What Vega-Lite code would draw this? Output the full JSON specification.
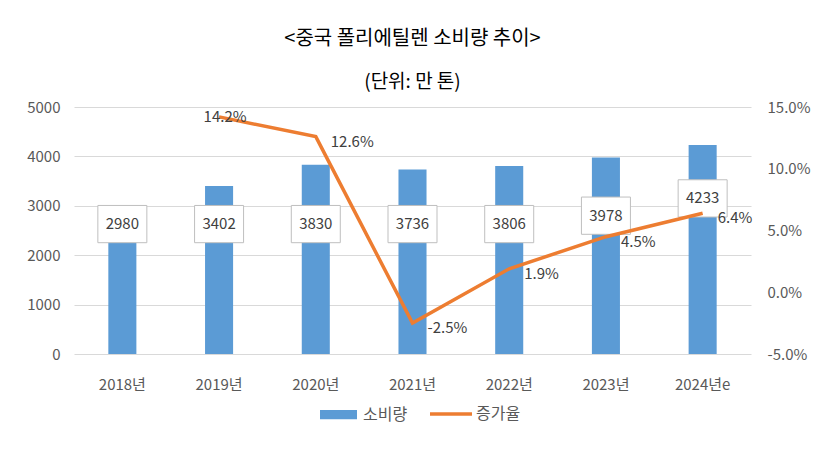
{
  "$schema": "https://vega.github.io/schema/vega-lite/v6.json",
  "width": 677,
  "height": 247,
  "autosize": {"type": "none"},
  "padding": {"left": 74, "top": 107, "right": 78, "bottom": 103},
  "background": "white",
  "config": {
    "font": "Noto Sans CJK KR",
    "view": {"stroke": null},
    "axis": {"labelFont": "Noto Sans CJK KR", "labelFontSize": 15, "labelColor": "#595959", "domain": false, "ticks": false, "title": null}
  },
  "title": {
    "text": "<중국 폴리에틸렌 소비량 추이>",
    "subtitle": "(단위: 만 톤)",
    "font": "Noto Sans CJK KR",
    "subtitleFont": "Noto Sans CJK KR",
    "fontSize": 20,
    "subtitleFontSize": 19,
    "fontWeight": "normal",
    "color": "#000000",
    "subtitleColor": "#000000",
    "anchor": "middle",
    "offset": 8,
    "subtitlePadding": 24
  },
  "data": {
    "values": [
      {"year": "2018년", "value": 2980, "rate": null},
      {"year": "2019년", "value": 3402, "rate": 0.142},
      {"year": "2020년", "value": 3830, "rate": 0.126},
      {"year": "2021년", "value": 3736, "rate": -0.025},
      {"year": "2022년", "value": 3806, "rate": 0.019},
      {"year": "2023년", "value": 3978, "rate": 0.045},
      {"year": "2024년e", "value": 4233, "rate": 0.064}
    ]
  },
  "encoding": {
    "x": {
      "field": "year",
      "type": "nominal",
      "sort": null,
      "scale": {"paddingInner": 0.71, "paddingOuter": 0.355},
      "axis": {"labelAngle": 0, "labelPadding": 23, "grid": false}
    }
  },
  "layer": [
    {
      "transform": [{"calculate": "datum.value < 3900 ? 2630 : (datum.value < 4000 ? 2800 : 3150)", "as": "labelY"}],
      "layer": [
        {
          "mark": {"type": "bar", "color": "#5b9bd5"},
          "encoding": {
            "y": {
              "field": "value",
              "type": "quantitative",
              "scale": {"domain": [0, 5000], "nice": false},
              "axis": {"values": [0, 1000, 2000, 3000, 4000, 5000], "format": "d", "grid": true, "gridColor": "#d9d9d9", "labelPadding": 14}
            },
            "fill": {
              "datum": "소비량",
              "type": "nominal",
              "scale": {"range": ["#5b9bd5"]},
              "legend": {"orient": "none", "legendX": 246, "legendY": 289, "title": null, "symbolType": "M-1,-0.25H1V0.25H-1Z", "symbolSize": 1369, "symbolStrokeWidth": 0, "labelFontSize": 16, "labelColor": "#595959", "labelFont": "Noto Sans CJK KR", "labelOffset": 6}
            }
          }
        },
        {
          "mark": {"type": "point", "shape": "M-1,-0.76H1V0.76H-1Z", "size": 2401, "filled": true, "fill": "white", "stroke": "#bfbfbf", "strokeWidth": 1, "opacity": 1},
          "encoding": {"y": {"field": "labelY", "type": "quantitative"}}
        },
        {
          "mark": {"type": "text", "fontSize": 15, "color": "#404040"},
          "encoding": {
            "y": {"field": "labelY", "type": "quantitative"},
            "text": {"field": "value", "type": "quantitative", "format": "d"}
          }
        }
      ]
    },
    {
      "transform": [
        {"filter": "datum.rate != null"},
        {"calculate": "replace(format(datum.rate, '.1%'), '\u2212', '-')", "as": "rateLabel"}
      ],
      "encoding": {
        "y": {
          "field": "rate",
          "type": "quantitative",
          "scale": {"domain": [-0.05, 0.15], "nice": false},
          "axis": {"orient": "right", "values": [-0.05, 0, 0.05, 0.1, 0.15], "format": ".1%", "labelExpr": "replace(datum.label, '\u2212', '-')", "grid": false, "labelPadding": 16}
        }
      },
      "layer": [
        {
          "mark": {"type": "line", "strokeWidth": 3.5, "color": "#ed7d31"},
          "encoding": {
            "stroke": {
              "datum": "증가율",
              "type": "nominal",
              "scale": {"range": ["#ed7d31"]},
              "legend": {"orient": "none", "legendX": 354, "legendY": 284, "title": null, "symbolType": "stroke", "symbolSize": 1764, "symbolStrokeWidth": 3.5, "labelFontSize": 16, "labelColor": "#595959", "labelFont": "Noto Sans CJK KR", "labelOffset": 2}
            }
          }
        },
        {
          "transform": [{"filter": "datum.year != '2019년'"}],
          "mark": {"type": "text", "align": "left", "dx": 15, "dy": 5, "fontSize": 15, "color": "#404040"},
          "encoding": {"text": {"field": "rateLabel", "type": "nominal"}}
        },
        {
          "transform": [{"filter": "datum.year == '2019년'"}],
          "mark": {"type": "text", "align": "center", "dx": 6, "fontSize": 15, "color": "#404040"},
          "encoding": {"text": {"field": "rateLabel", "type": "nominal"}}
        }
      ]
    }
  ],
  "resolve": {"scale": {"y": "independent"}}
}
